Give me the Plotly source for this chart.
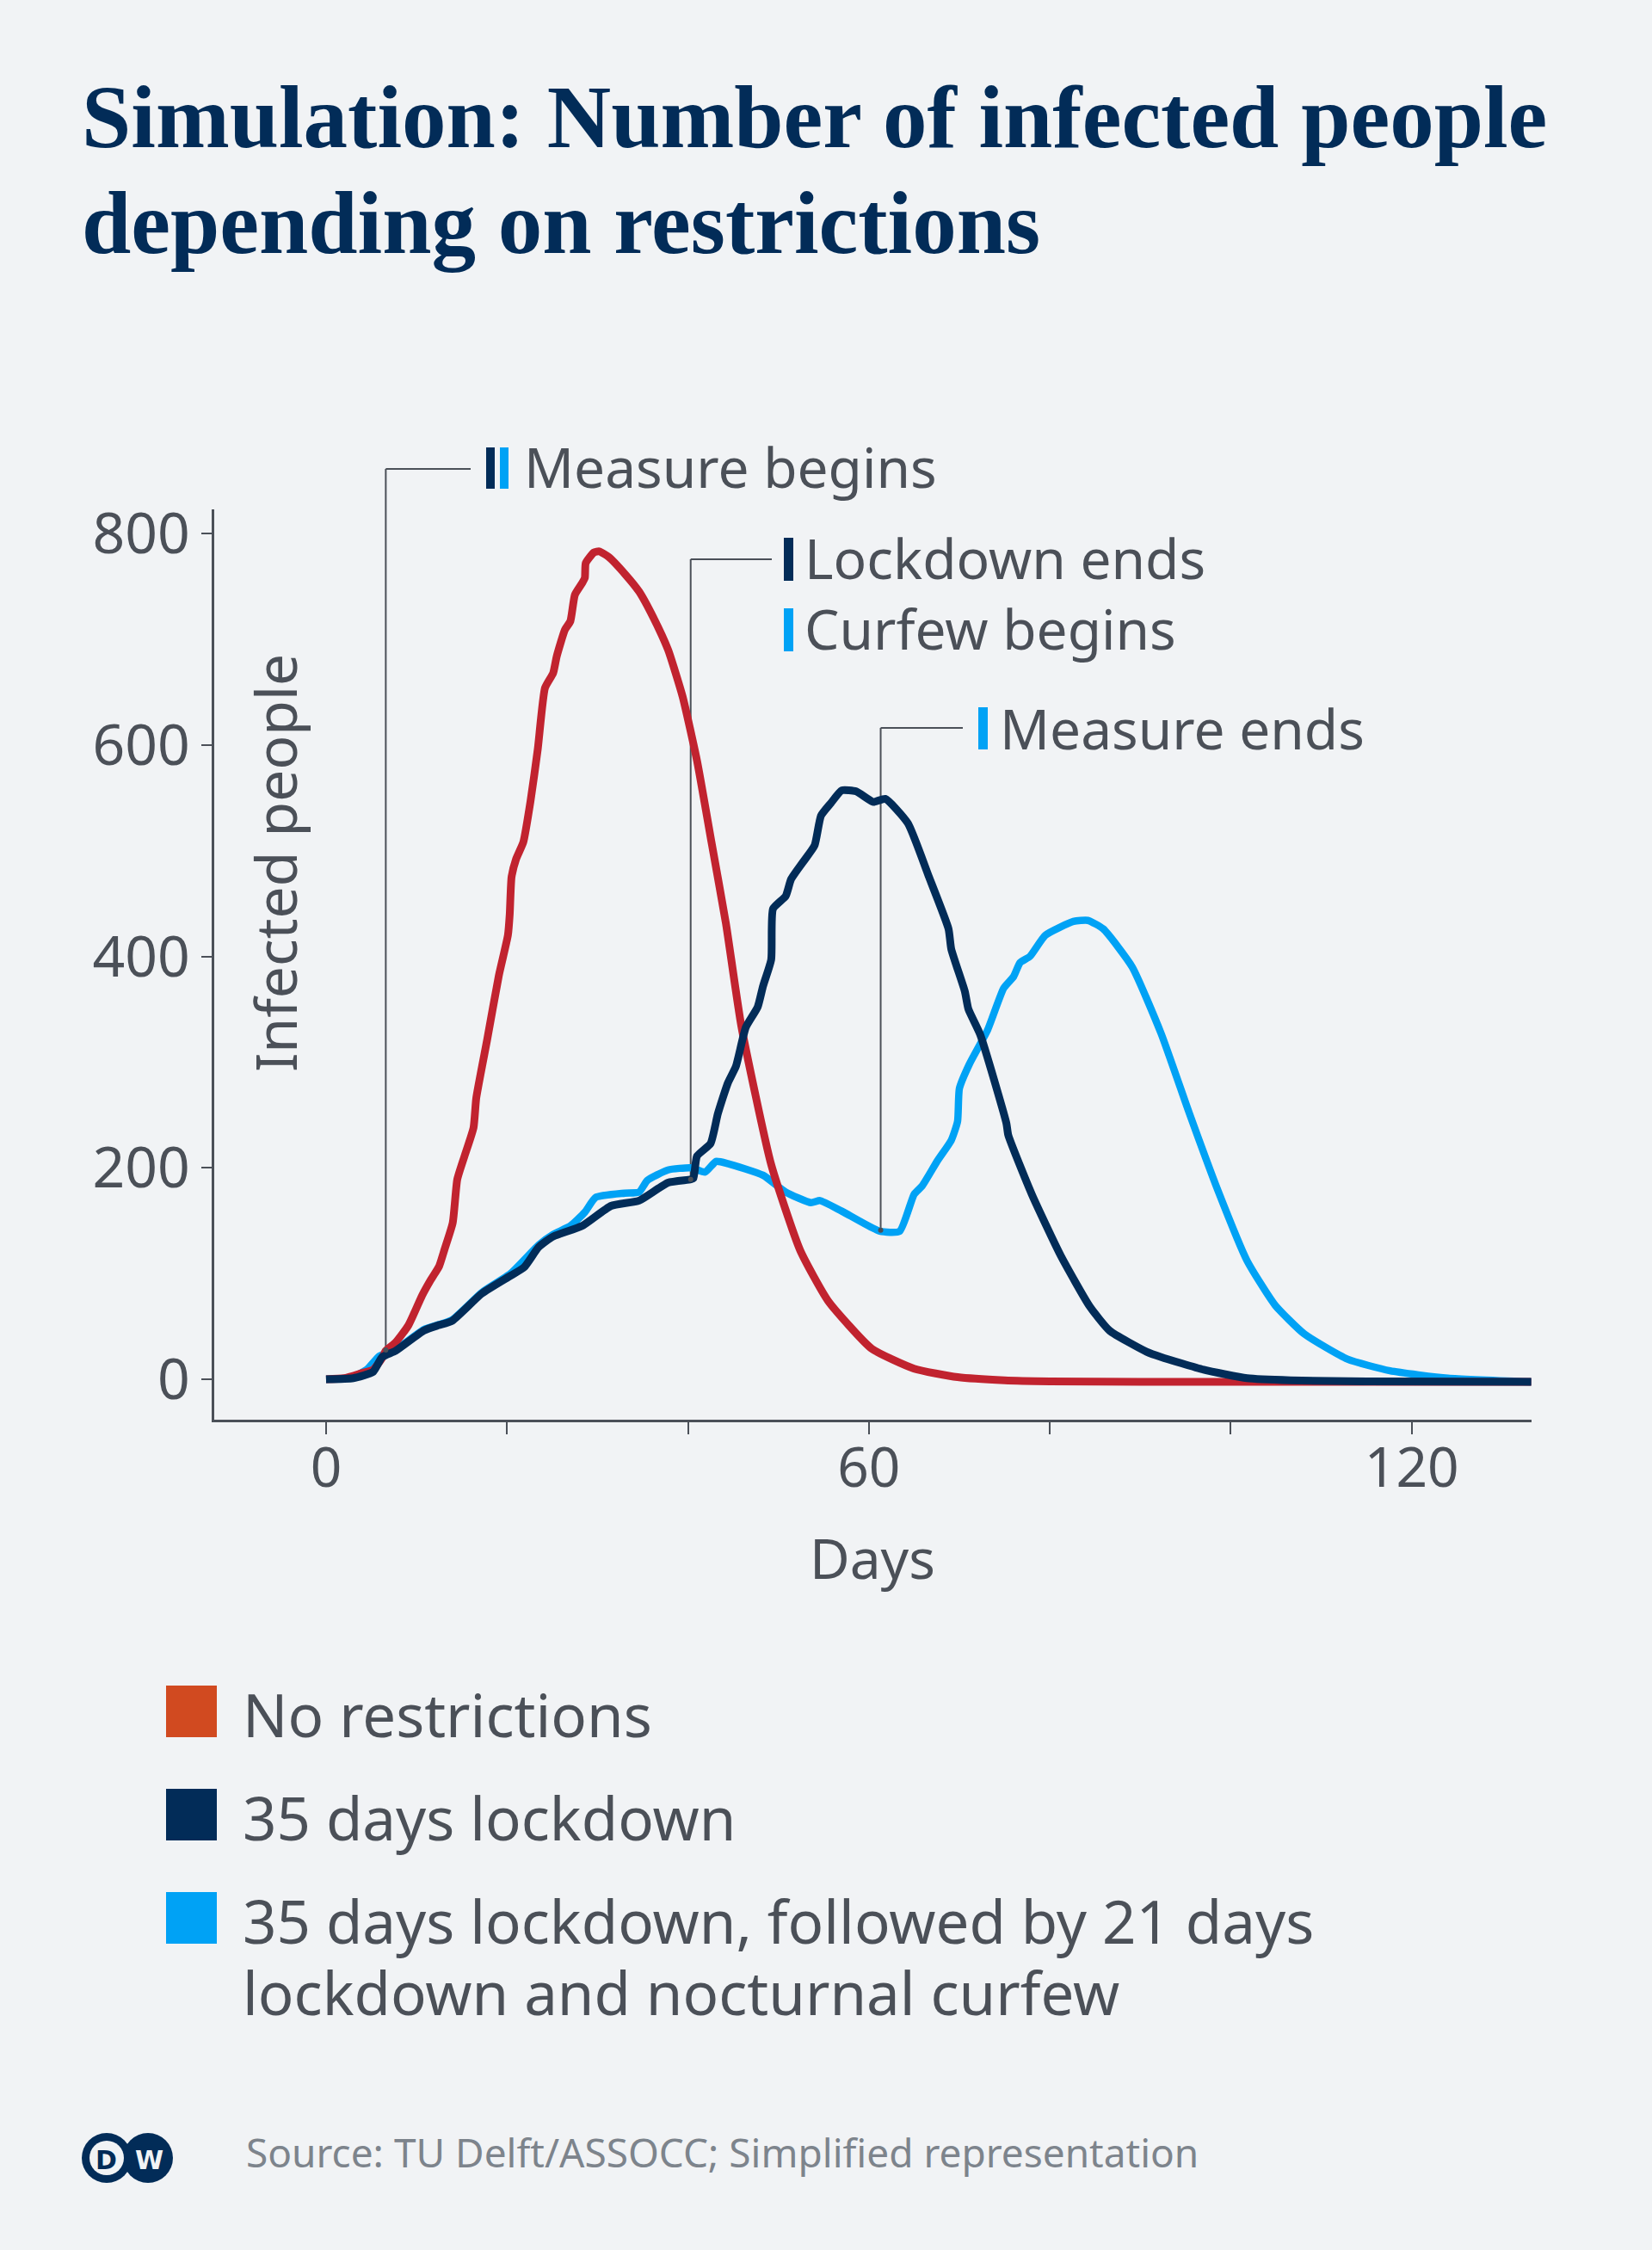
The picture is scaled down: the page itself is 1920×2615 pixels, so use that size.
import plotly.graph_objects as go

# ---------------- data ----------------
no_restr_days = [0, 2, 4, 5.2, 6.2, 6.6, 7.7, 9.1, 10.6, 11.5, 12.5, 13.1, 14.0, 14.5, 15.3, 16.3, 16.6,
                 17.8, 19.1, 20.1, 20.3, 20.5, 21.0, 21.8, 22.6, 23.4, 24.2, 25.1, 25.5, 26.4, 27.0, 27.5,
                 28.3, 28.6, 28.7, 29.6, 30.2, 31.2, 33.1, 34.6, 36.2, 37.8, 39.4, 41.0, 42.6, 44.2, 45.9,
                 49.2, 52.4, 55.5, 60.3, 65.0, 69.8, 75, 80, 90, 100, 110, 120, 133.2]
no_restr_vals = [0, 1, 6, 9, 20, 27, 35, 51, 79, 93, 107, 123, 148, 189, 211, 238, 266,
                 321, 382, 420, 440, 475, 492, 508, 547, 596, 654, 668, 684, 709, 717, 742,
                 753, 758, 772, 782, 783, 778, 761, 745, 720, 690, 646, 585, 508, 431, 334,
                 203, 122, 74, 29, 10, 2, -1, -2, -2.5, -2.5, -2.5, -2.5, -2.5]

lockdown_days = [0, 3, 5.2, 6.2, 7.7, 10.8, 12.4, 13.9, 17.2, 20.4, 21.9, 23.5, 25.1, 28.3, 31.5, 34.6,
                 37.8, 40.3, 40.6, 41.0, 42.5, 43.3, 44.4, 45.3, 46.4, 47.7, 48.3, 49.2, 49.4, 50.8, 51.4,
                 52.7, 54.0, 54.7, 55.8, 57.0, 58.6, 60.5, 61.8, 64.3, 66.6, 68.8, 69.1, 70.6, 71.0, 72.3,
                 75.2, 75.4, 78.0, 81.2, 84.4, 86.6, 90.7, 92.3, 97.0, 101.8, 106.6, 115, 133.2]
lockdown_vals = [0, 1, 7, 21, 27, 46, 51, 55, 81, 98, 106, 125, 135, 145, 164, 169,
                 186, 189, 190, 211, 223, 251, 280, 296, 333, 352, 372, 397, 445, 457, 473,
                 489, 505, 533, 545, 557, 556, 546, 549, 526, 476, 426, 407, 367, 350, 326,
                 242, 231, 175, 117, 69, 46, 26, 21, 9, 1, -1, -2, -2.5]

curfew_days = [0, 3, 4.6, 5.9, 7.7, 10.8, 13.9, 17.2, 20.4, 23.5, 25.1, 27.0, 28.6, 29.8, 33.0, 34.6,
               35.5, 37.8, 40.3, 41.9, 43.1, 44.4, 48.3, 50.8, 53.6, 54.6, 57.0, 61.2, 63.4, 65.0, 65.9,
               67.6, 69.1, 69.8, 70.0, 71.1, 73.1, 74.9, 76.0, 76.7, 77.8, 79.5, 82.6, 84.2, 85.9, 89.1,
               92.3, 95.4, 98.6, 101.8, 104.9, 108.1, 112.9, 117.6, 124, 133.2]
curfew_vals = [0, 2, 10, 22, 28, 47, 56, 82, 100, 127, 137, 145, 158, 172, 176, 177,
               188, 198, 200, 196, 206, 204, 193, 177, 167, 169, 159, 140, 140, 175, 183,
               207, 226, 244, 275, 298, 330, 370, 381, 394, 400, 420, 433, 434, 426, 390,
               327, 252, 178, 112, 70, 43, 19, 8, 1, -2.5]

series_names = ["No restrictions", "35 days lockdown",
                "35 days lockdown, followed by 21 days", "lockdown and nocturnal curfew"]

x_tick_vals = [0, 20, 40, 60, 80, 100, 120]
x_tick_text = ["0", "", "", "60", "", "", "120"]
y_tick_vals = [0, 200, 400, 600, 800]

# event markers (day, value on curve)
measure_begins = (6.6, 27.7)
lockdown_ends = (40.3, 189)
measure_ends = (61.3, 141)

# ---------------- style ----------------
W, H = 1920, 2615
L, R, T, B = 249, 1780, 592, 1650
XR = [-12.36, 133.24]
YR = [-38.25, 822.8]
BG = "#F1F3F5"
RED = "#C1232F"
RED_LEG = "#D14A20"
NAVY = "#022C58"
BLUE = "#00A2F5"
GRAY = "#4B5058"
SANS = "Noto Sans"


def px(xp):
    return (xp - L) / (R - L)


def py(yp):
    return (B - yp) / (B - T)


def dx(day):
    return (day - XR[0]) / (XR[1] - XR[0])


def dy(val):
    return (val - YR[0]) / (YR[1] - YR[0])


fig = go.Figure()
fig.add_trace(go.Scatter(x=curfew_days, y=curfew_vals, mode="lines",
                         line=dict(color=BLUE, width=8.5, shape="spline", smoothing=0.5),
                         showlegend=False, hoverinfo="skip"))
fig.add_trace(go.Scatter(x=no_restr_days, y=no_restr_vals, mode="lines",
                         line=dict(color=RED, width=9, shape="spline", smoothing=0.5),
                         showlegend=False, hoverinfo="skip"))
fig.add_trace(go.Scatter(x=lockdown_days, y=lockdown_vals, mode="lines",
                         line=dict(color=NAVY, width=9, shape="spline", smoothing=0.5),
                         showlegend=False, hoverinfo="skip"))

shapes = []
annotations = []


def seg(x0, y0, x1, y1):
    shapes.append(dict(type="line", xref="paper", yref="paper", x0=x0, y0=y0, x1=x1, y1=y1,
                       line=dict(color=GRAY, width=2), layer="below"))


def rect(x0, y0, x1, y1, color):
    shapes.append(dict(type="rect", xref="paper", yref="paper", x0=px(x0), x1=px(x1),
                       y0=py(y1), y1=py(y0), fillcolor=color, line=dict(width=0)))


def text(t, x, y, size, color=GRAY, xanchor="left", family=SANS, angle=0):
    annotations.append(dict(text=t, xref="paper", yref="paper", x=px(x), y=py(y), xanchor=xanchor,
                            yanchor="middle", showarrow=False, textangle=angle,
                            font=dict(family=family, size=size, color=color)))


# annotation leader lines
for (d, v), top, hend in [(measure_begins, 545, 547), (lockdown_ends, 650, 897), (measure_ends, 846, 1119)]:
    seg(dx(d), dy(v), dx(d), py(top))
    seg(dx(d), py(top), px(hend), py(top))
    shapes.append(dict(type="circle", xref="paper", yref="paper",
                       x0=dx(d) - 3 / (R - L), x1=dx(d) + 3 / (R - L),
                       y0=dy(v) - 3 / (B - T), y1=dy(v) + 3 / (B - T),
                       fillcolor=GRAY, line=dict(width=0)))

rect(565, 520, 575, 568, NAVY)
rect(581, 520, 591, 568, BLUE)
rect(911, 625, 922, 675, NAVY)
rect(911, 707, 922, 757, BLUE)
rect(1137, 822, 1148, 871, BLUE)

text("Measure begins", 607, 542, 64)
text("Lockdown ends", 933, 648, 64)
text("Curfew begins", 933, 730, 64)
text("Measure ends", 1160, 846, 64)

# axis titles
text("Days", 1014, 1810, 64, xanchor="center")
text("Infected people", 319, 1003, 66, xanchor="center", angle=-90)

# title
text("<b>Simulation: Number of infected people</b>", 93, 136, 103, color=NAVY, family="Liberation Serif")
text("<b>depending on restrictions</b>", 93, 259, 103, color=NAVY, family="Liberation Serif")

# legend
rect(193, 1959, 252, 2019, RED_LEG)
rect(193, 2079, 252, 2139, NAVY)
rect(193, 2199, 252, 2259, BLUE)
text(series_names[0], 280, 1992, 69)
text(series_names[1], 280, 2112, 69)
text(series_names[2], 280, 2232, 69)
text(series_names[3], 280, 2315, 69)

# source
text("Source: TU Delft/ASSOCC; Simplified representation", 284, 2501, 46, color="#7D848C")


# DW logo
def circ(cx, cy, r, color):
    shapes.append(dict(type="circle", xref="paper", yref="paper",
                       x0=px(cx - r), x1=px(cx + r), y0=py(cy + r), y1=py(cy - r),
                       fillcolor=color, line=dict(width=0)))


circ(172, 2508, 29, NAVY)
circ(124, 2508, 29, NAVY)
circ(124, 2508, 20, BG)
text("<b>D</b>", 124, 2510, 30, color=NAVY, xanchor="center", family="DejaVu Sans")
text("<b>W</b>", 173, 2510, 30, color=BG, xanchor="center", family="DejaVu Sans")

fig.update_layout(
    width=W, height=H,
    margin=dict(l=L, r=W - R, t=T, b=H - B, pad=0),
    paper_bgcolor=BG, plot_bgcolor=BG,
    shapes=shapes, annotations=annotations,
    showlegend=False,
    xaxis=dict(range=XR, showgrid=False, zeroline=False, showline=True, linecolor=GRAY, linewidth=3,
               ticks="outside", ticklen=14, tickwidth=2, tickcolor=GRAY,
               tickvals=x_tick_vals, ticktext=x_tick_text, ticklabelstandoff=-16,
               tickfont=dict(family=SANS, size=64, color=GRAY)),
    yaxis=dict(range=YR, showgrid=False, zeroline=False, showline=True, linecolor=GRAY, linewidth=3,
               ticks="outside", ticklen=12, tickwidth=2, tickcolor=GRAY,
               tickvals=y_tick_vals,
               tickfont=dict(family=SANS, size=66, color=GRAY)),
)

fig.write_html(
    "out.html",
    config={"displayModeBar": False},
    post_script="document.body.style.margin='0';document.body.style.background='" + BG + "';",
)
